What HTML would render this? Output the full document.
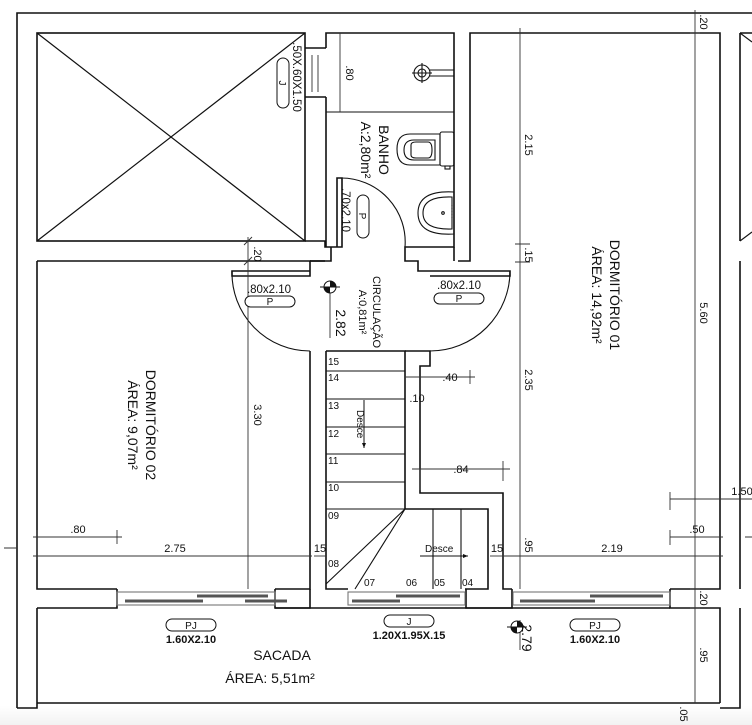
<!DOCTYPE html>
<html><head><meta charset="utf-8"><style>
html,body{margin:0;padding:0;background:#fff;}
svg{display:block;}
text{font-family:"Liberation Sans",sans-serif;fill:#111;}
</style></head><body>
<svg width="752" height="725" viewBox="0 0 752 725" xmlns="http://www.w3.org/2000/svg">
<defs><linearGradient id="g" x1="0" y1="0" x2="0" y2="1"><stop offset="0" stop-color="#fff"/><stop offset="1" stop-color="#f2f2f2"/></linearGradient></defs>
<rect x="0" y="706" width="752" height="19" fill="url(#g)"/>
<g fill="none" stroke="#111" stroke-width="1.6">
<path d="M17 708 V13 H752"/>
<path d="M17 708 H37 V608"/>
<rect x="37" y="33" width="268" height="208"/>
<path d="M37 33 L305 241 M305 33 L37 241" stroke-width="1.2"/>
<path d="M37 261 H310 V271 M232 271 H310 V276 H232 Z"/>
<path d="M37 261 V589 H117 M275 589 H310 V351"/>
<path d="M305 241 H325 V247 H337 V178 H342 V247 H331 V261 H310"/>
<path d="M310 261 H325"/>
<path d="M326 48 V33 H454 V247 H405 V261 H418 V271 H510 V276 H430"/>
<path d="M305 48 H326 M305 97 H326 M326 97 V247"/>
<path d="M470 247 V33 H720 V589 H670"/>
<path d="M470 247 V261 H458"/>
<path d="M454 247 V261"/>
<path d="M326 351 V589 H348 M326 351 H405 V509"/>
<path d="M405 351 H430 V366 H420 V493 H503 V589 H512"/>
<path d="M405 509 H488 V589 H465"/>
<path d="M466 589 V608 H512 V589"/>
<path d="M670 589 V608 H720 V703"/>
<path d="M740 33 V241 M740 261 V589 M740 608 V708 H720 M740 33 H752"/>
<path d="M275 589 V608 H310 V589"/>
<path d="M117 589 V608 H37 M37 703 H720"/>
<path d="M275 608 H670"/>
</g>
<g fill="none" stroke="#111" stroke-width="1.1">
<path d="M740 33 L752 42 M740 241 L752 232"/>
<path d="M326 371 H405 M326 399 H405 M326 427 H405 M326 454 H405 M326 482 H405 M326 509 H405"/>
<path d="M433 509 V589 M461 509 V589"/>
<path d="M405 509 L326 584 M405 509 L355 589"/>
<path d="M232 271 A78 78 0 0 0 310 351"/>
<path d="M510 271 A80 80 0 0 1 430 351"/>
<path d="M341 178 A64 64 0 0 1 405 247"/>
<path d="M326 112 H454"/>
<circle cx="422" cy="73" r="8"/><circle cx="422" cy="73" r="4"/>
<path d="M412 73 H432 M422 63 V83 M430 70 H454 M430 76 H454"/>
<!-- toilet -->
<path d="M440 134 H410 Q397 134 397 149 Q397 165 410 165 H440 Z"/>
<path d="M435 140 H414 Q404 140 404 150 Q404 160 414 160 H435 Z"/>
<path d="M411 145 V155 Q411 158 416 158 H428 Q432 158 432 150 Q432 142 428 142 H416 Q411 142 411 145"/>
<rect x="440" y="132" width="14" height="34" rx="2"/>
<rect x="445" y="166" width="5" height="3"/>
<!-- sink -->
<path d="M454 192 Q418 190 418 213 Q418 236 454 234 Z"/>
<path d="M452 197 Q423 196 423 213 Q423 230 452 229 Z"/>
<circle cx="443" cy="213" r="1.3"/>
<path d="M452 205 V220" stroke-dasharray="1 2"/>
<g stroke="#777"><rect x="117" y="592" width="158" height="13"/><rect x="348" y="592" width="117" height="13"/><rect x="513" y="592" width="157" height="13"/></g>
<g stroke="#555" stroke-width="3"><path d="M125 601 H203 M197 596 H268 M245 601 H287 M352 601 H400 M396 596 H460 M520 601 H595 M590 596 H663"/></g>
<path d="M312 55 V92 M318 55 V92" stroke="#555"/>
</g>
<g fill="none" stroke="#333" stroke-width="0.9">
<path d="M248 237 V589 M244 245 L252 237 M244 265 L252 257"/>
<path d="M33 556 H312 M33 537 H122 M117 530 V544 M37 530 V560"/>
<path d="M520 28 V589 M515 244 H530 M515 262 H530 M412 469 H510 M420 469 V490 M503 461 V481"/>
<path d="M405 377 H430 M420 377 H475 M470 370 V384"/>
<path d="M695 10 V703 M690 33 H700 M690 589 H700 M690 608 H700"/>
<path d="M503 556 H723 M670 537 H723 M670 499 H752 M670 492 V510 M670 530 V545 M745 537 H752"/>
<path d="M340 33 V112"/>
<path d="M314 556 H326"/>
<path d="M490 556 H503"/>
<path d="M520 620 V650 M330 283 V338 M4 548 H17"/>
</g>
<g>
<circle cx="330" cy="287" r="6" fill="#fff" stroke="#111"/>
<path d="M330 287 V281 A6 6 0 0 1 336 287 Z M330 287 V293 A6 6 0 0 1 324 287 Z" fill="#111"/>
<path d="M320 287 H340" stroke="#111"/>
<circle cx="517" cy="627" r="6" fill="#fff" stroke="#111"/>
<path d="M517 627 V621 A6 6 0 0 1 523 627 Z M517 627 V633 A6 6 0 0 1 511 627 Z" fill="#111"/>
<path d="M507 627 H527" stroke="#111"/>
</g>
<g fill="#fff" stroke="#111" stroke-width="1">
<rect x="245" y="296" width="50" height="11" rx="5.5"/>
<rect x="434" y="293" width="50" height="11" rx="5.5"/>
<rect x="166" y="619" width="50" height="12" rx="6"/>
<rect x="384" y="615" width="50" height="12" rx="6"/>
<rect x="570" y="619" width="50" height="12" rx="6"/>
<rect x="277" y="58" width="12" height="50" rx="6"/>
<rect x="357" y="195" width="12" height="43" rx="6"/>
</g>
<g font-size="10" text-anchor="middle">
<text x="270" y="305">P</text><text x="459" y="302">P</text>
<text x="191" y="629">PJ</text><text x="409" y="625">J</text><text x="595" y="629">PJ</text>
<text transform="translate(283 83) rotate(90)" y="4">J</text>
<text transform="translate(363 216) rotate(90)" y="4">P</text>
</g>
<g font-size="11.5" text-anchor="middle">
<text x="269" y="293">.80x2.10</text>
<text x="459" y="289">.80x2.10</text>
<text x="191" y="643" font-weight="bold" font-size="11">1.60X2.10</text>
<text x="409" y="639" font-weight="bold" font-size="11">1.20X1.95X.15</text>
<text x="595" y="643" font-weight="bold" font-size="11">1.60X2.10</text>
<text transform="translate(297 77) rotate(90)" y="4">.50X.60X1.50</text>
<text transform="translate(346 210) rotate(90)" y="4">.70x2.10</text>
</g>
<g font-size="14" text-anchor="middle">
<text transform="translate(151 425) rotate(90)" y="5">DORMITÓRIO  02</text>
<text transform="translate(133 425) rotate(90)" y="5">ÁREA:  9,07m²</text>
<text transform="translate(615 295) rotate(90)" y="5">DORMITÓRIO  01</text>
<text transform="translate(597 295) rotate(90)" y="5">ÁREA:  14,92m²</text>
<text transform="translate(384 150) rotate(90)" y="5">BANHO</text>
<text transform="translate(366 150) rotate(90)" y="5">A:2,80m²</text>
<text x="282" y="660">SACADA</text>
<text x="270" y="683">ÁREA:  5,51m²</text>
<text transform="translate(341 323) rotate(90)" y="5">2.82</text>
<text transform="translate(527 638) rotate(90)" y="5">2.79</text>
</g>
<g font-size="11" text-anchor="middle">
<text transform="translate(377 312) rotate(90)" y="4">CIRCULAÇÃO</text>
<text transform="translate(363 312) rotate(90)" y="4">A:0,81m²</text>
</g>
<g font-size="11" text-anchor="middle" fill="#222">
<text x="78" y="533">.80</text><text x="175" y="552">2.75</text>
<text x="320" y="552">15</text><text x="497" y="552">15</text>
<text x="612" y="552">2.19</text><text x="697" y="533">.50</text><text x="742" y="495">1.50</text>
<text x="450" y="381">.40</text><text x="417" y="402">.10</text><text x="461" y="473">.84</text>
<text transform="translate(258 415) rotate(90)" y="4">3.30</text>
<text transform="translate(258 254) rotate(90)" y="4">.20</text>
<text transform="translate(529 145) rotate(90)" y="4">2.15</text>
<text transform="translate(529 255) rotate(90)" y="4">.15</text>
<text transform="translate(529 380) rotate(90)" y="4">2.35</text>
<text transform="translate(529 545) rotate(90)" y="4">.95</text>
<text transform="translate(704 313) rotate(90)" y="4">5.60</text>
<text transform="translate(704 22) rotate(90)" y="4">.20</text>
<text transform="translate(704 598) rotate(90)" y="4">.20</text>
<text transform="translate(704 655) rotate(90)" y="4">.95</text>
<text transform="translate(684 714) rotate(90)" y="4">.05</text>
<text transform="translate(350 73) rotate(90)" y="4">.80</text>
</g>
<g font-size="10">
<text x="328" y="365">15</text><text x="328" y="381">14</text><text x="328" y="409">13</text>
<text x="328" y="437">12</text><text x="328" y="464">11</text><text x="328" y="491">10</text>
<text x="328" y="519">09</text><text x="328" y="567">08</text><text x="364" y="586">07</text>
<text x="406" y="586">06</text><text x="434" y="586">05</text><text x="462" y="586">04</text>
<text x="425" y="552">Desce</text>
<text transform="translate(357 410) rotate(90)">Desce</text>
</g>
<path d="M420 556 H468 M364 400 V448" stroke="#111" fill="none"/>
<path d="M468 556 l-5 -2 v4 z M364 448 l-2 -5 h4 z" fill="#111"/>
</svg>
</body></html>
